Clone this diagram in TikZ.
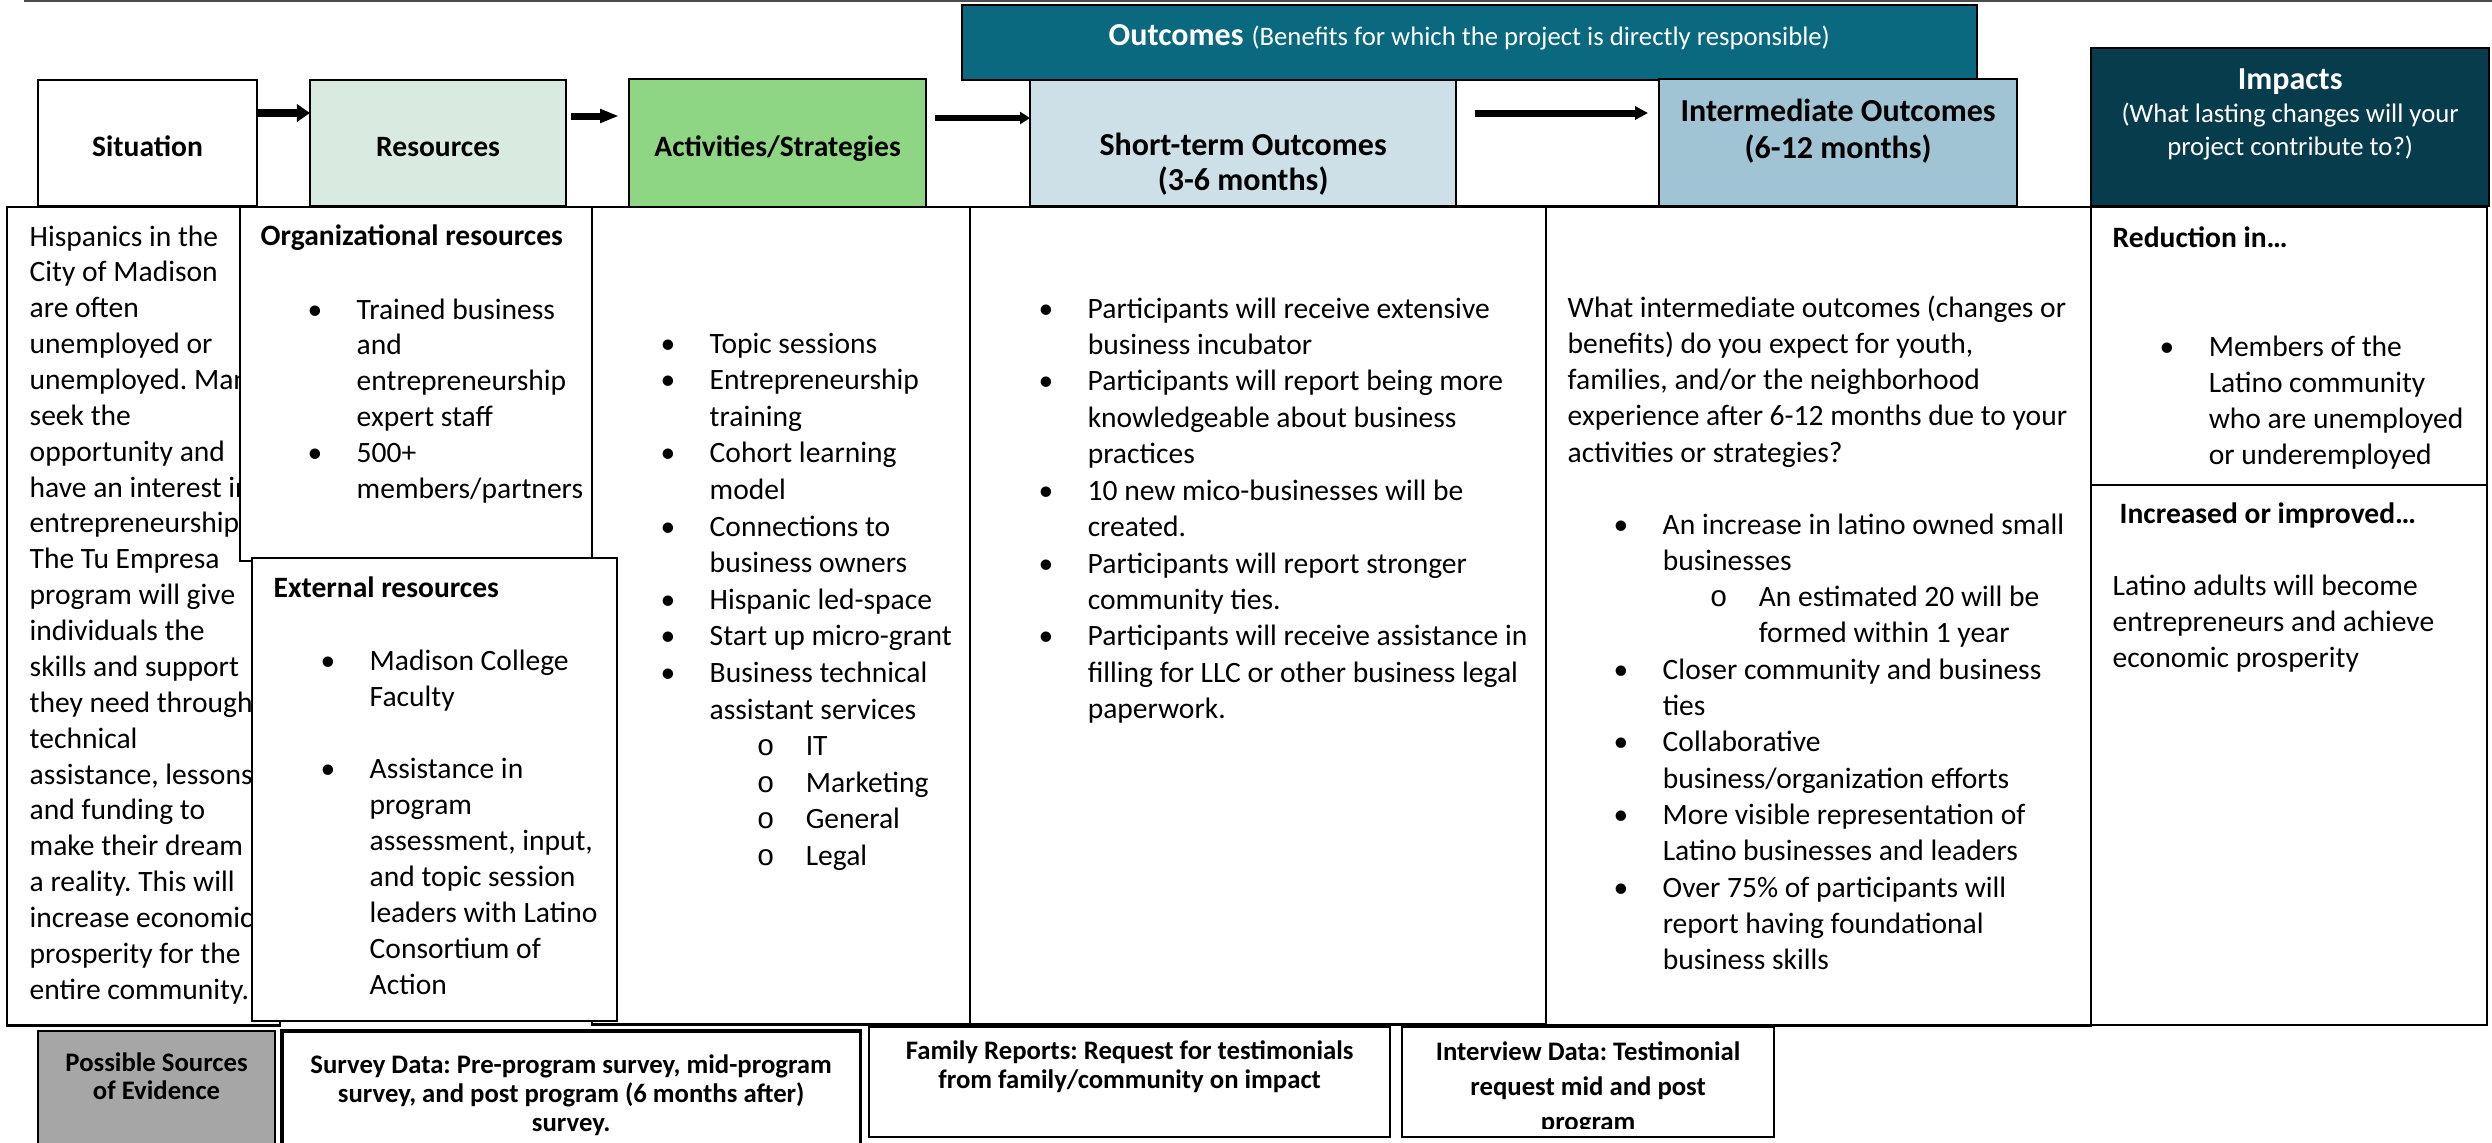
\documentclass[tikz,border=0pt]{standalone}
\usepackage{fontspec}
\setmainfont{Carlito}
\setmonofont{Liberation Mono}
\usetikzlibrary{arrows.meta, positioning, calc}
\definecolor{resGreen}{RGB}{217,235,224}
\definecolor{actGreen}{RGB}{142,214,131}
\definecolor{outTeal}{RGB}{11,105,127}
\definecolor{shortBlue}{RGB}{205,224,231}
\definecolor{midBlue}{RGB}{161,196,212}
\definecolor{impactNavy}{RGB}{7,60,77}
\definecolor{evidGray}{RGB}{166,166,166}
\definecolor{lineGray}{gray}{0.3}

\newcommand{\bodyfont}[1]{\fontsize{8.4}{#1}\selectfont}
\newcommand{\boxfont}{\fontsize{8.4}{10}\selectfont\bfseries}
\newcommand{\headfont}[1]{\fontsize{9.1}{#1}\selectfont\bfseries}
\newcommand{\notefont}{\fontsize{7.6}{9}\selectfont\mdseries}
\newcommand{\evfont}[1]{\fontsize{7.6}{#1}\selectfont\bfseries}
\newcommand{\subpt}[1]{\makebox[0.96cm][l]{\hspace{0.47cm}\texttt{o}}#1}
\frenchspacing

\begin{document}
\begin{tikzpicture}[x=0.01cm, y=-0.01cm,
    box/.style={draw=black, line width=0.6pt, anchor=north west, inner sep=0pt, outer sep=0pt},
    txt/.style={anchor=base west, inner sep=0pt},
    lbl/.style={anchor=base, inner sep=0pt, align=center},
    flow/.style={-{Triangle[length=0.13cm, width=0.16cm]}, line width=0.07cm}]
    \useasboundingbox (0,0) rectangle (2492,1142);
    \clip (0,0) rectangle (2492,1142);
    \draw[lineGray, line width=0.6pt] (24,1) -- (2492,1);

    % Header row
    \node[box, fill=white, minimum width=2.19cm, minimum height=1.26cm] (sit) at (38,80) {};
    \node[box, fill=resGreen, minimum width=2.56cm, minimum height=1.26cm] (res) at (310,80) {};
    \node[box, fill=actGreen, minimum width=2.97cm, minimum height=1.28cm] (act) at (629,79) {};
    \node[box, fill=outTeal, minimum width=10.14cm, minimum height=0.75cm] (outHead) at (962,5) {};
    \node[box, fill=shortBlue, minimum width=4.26cm, minimum height=1.26cm] (stt) at (1030,80) {};
    \node[box, fill=white, minimum width=2.03cm, minimum height=1.26cm] (gap) at (1456,80) {};
    \node[box, fill=midBlue, minimum width=3.58cm, minimum height=1.27cm] (int) at (1659,79) {};
    \node[box, fill=impactNavy, minimum width=3.98cm, minimum height=1.58cm] (imp) at (2091,48) {};

    \node[lbl, font=\boxfont] (sitLbl) at ($(sit.north)+(0,76)$) {Situation};
    \node[lbl, font=\boxfont] (resLbl) at ($(res.north)+(0,76)$) {Resources};
    \node[lbl, font=\boxfont] (actLbl) at ($(act.north)+(0,77)$) {Activities/Strategies};
    \node[lbl, white] (outLbl) at ($(outHead.north)+(0,40)$) {{\headfont{11pt}Outcomes} {\notefont(Benefits for which the project is directly responsible)}};
    \node[lbl, font={\headfont{10pt}}] (sttLbl) at ($(stt.north)+(0,75)$) {\begin{tabular}[t]{@{}c@{}}Short-term Outcomes\\ (3-6 months)\end{tabular}};
    \node[lbl, font={\headfont{10.8pt}}] (intLbl) at ($(int.north)+(0,42)$) {\begin{tabular}[t]{@{}c@{}}Intermediate Outcomes\\ (6-12 months)\end{tabular}};
    \node[lbl, white, font={\headfont{9.4pt}}] (impLbl) at ($(imp.north)+(0,41)$) {\begin{tabular}[t]{@{}c@{}}Impacts\\ \notefont(What lasting changes will your\\ \notefont project contribute to?)\end{tabular}};

    % Arrows between headers
    \draw[flow, line width=0.08cm, -{Triangle[length=0.13cm, width=0.17cm]}] ($(sit.north east)+(0,33)$) -- ($(res.north west)+(0,33)$);
    \draw[flow, -{Triangle[length=0.19cm, width=0.13cm]}] ($(res.north east)+(5,36)$) -- ($(act.north west)+(-10,37)$);
    \draw[flow, line width=0.06cm, -{Triangle[length=0.1cm, width=0.12cm]}] ($(act.north east)+(9,39)$) -- ($(stt.north west)+(0,38)$);
    \draw[flow, -{Triangle[length=0.13cm, width=0.13cm]}] ($(stt.north east)+(19,33)$) -- ($(int.north west)+(-11,34)$);

    % Panels
    \node[box, fill=white, minimum width=2.73cm, minimum height=8.18cm] (sitPanel) at (7,207) {};
    \node[box, fill=white, minimum width=3.78cm, minimum height=8.17cm] (actPanel) at (592,207) {};
    \node[box, fill=white, minimum width=5.76cm, minimum height=8.17cm] (sttPanel) at (970,207) {};
    \node[box, fill=white, minimum width=5.45cm, minimum height=8.18cm] (intPanel) at (1546,207) {};
    \node[box, fill=white, minimum width=3.96cm, minimum height=2.78cm] (redPanel) at (2091,207) {};
    \node[box, fill=white, minimum width=3.96cm, minimum height=5.40cm] (incPanel) at (2091,485) {};

    \node[txt, font={\bodyfont{10.2pt}}] (sitText) at (29,246) {\begin{tabular}[t]{@{}l@{}}
        Hispanics in the\\ City of Madison\\ are often\\ unemployed or\\ unemployed. Many\\ seek the\\
        opportunity and\\ have an interest in\\ entrepreneurship.\\ The Tu Empresa\\ program will give\\
        individuals the\\ skills and support\\ they need through\\ technical\\ assistance, lessons,\\
        and funding to\\ make their dream\\ a reality. This will\\ increase economic\\
        prosperity for the\\ entire community.\end{tabular}};

    % Resources
    \node[box, fill=white, minimum width=3.52cm, minimum height=3.54cm] (orgBox) at (240,207) {};
    \node[txt, font={\bodyfont{10.2pt}\bfseries}] (orgHead) at (260,245) {Organizational resources};
    \node[txt, font={\bodyfont{10.2pt}}] (orgList) at (307,319) {\begin{tabular}[t]{@{}p{0.49cm}@{}l@{}}
        \textbullet & Trained business\\ & and\\ & entrepreneurship\\ & expert staff\\
        \textbullet & 500+\\ & members/partners\end{tabular}};
    \node[box, fill=white, minimum width=3.65cm, minimum height=4.63cm] (extBox) at (252,558) {};
    \node[txt, font={\bodyfont{10.2pt}\bfseries}] (extHead) at (273,597) {External resources};
    \node[txt, font={\bodyfont{10.24pt}}] (extList) at (320,670) {\begin{tabular}[t]{@{}p{0.49cm}@{}l@{}}
        \textbullet & Madison College\\ & Faculty\\ & \\
        \textbullet & Assistance in\\ & program\\ & assessment, input,\\ & and topic session\\
        & leaders with Latino\\ & Consortium of\\ & Action\end{tabular}};

    % Activities
    \node[txt, font={\bodyfont{10.41pt}}] (actList) at (660,353) {\begin{tabular}[t]{@{}p{0.49cm}@{}l@{}}
        \textbullet & Topic sessions\\
        \textbullet & Entrepreneurship\\ & training\\
        \textbullet & Cohort learning\\ & model\\
        \textbullet & Connections to\\ & business owners\\
        \textbullet & Hispanic led-space\\
        \textbullet & Start up micro-grant\\
        \textbullet & Business technical\\ & assistant services\\
        & \subpt{IT}\\ & \subpt{Marketing}\\ & \subpt{General}\\ & \subpt{Legal}\end{tabular}};

    % Short-term outcomes
    \node[txt, font={\bodyfont{10.36pt}}] (sttList) at (1038,318) {\begin{tabular}[t]{@{}p{0.49cm}@{}l@{}}
        \textbullet & Participants will receive extensive\\ & business incubator\\
        \textbullet & Participants will report being more\\ & knowledgeable about business\\ & practices\\
        \textbullet & 10 new mico-businesses will be\\ & created.\\
        \textbullet & Participants will report stronger\\ & community ties.\\
        \textbullet & Participants will receive assistance in\\ & filling for LLC or other business legal\\
        & paperwork.\end{tabular}};

    % Intermediate outcomes
    \node[txt, font={\bodyfont{10.33pt}}] (intQ) at (1567,317) {\begin{tabular}[t]{@{}l@{}}
        What intermediate outcomes (changes or\\ benefits) do you expect for youth,\\
        families, and/or the neighborhood\\ experience after 6-12 months due to your\\
        activities or strategies?\end{tabular}};
    \node[txt, font={\bodyfont{10.33pt}}] (intList) at (1613,534) {\begin{tabular}[t]{@{}p{0.49cm}@{}l@{}}
        \textbullet & An increase in latino owned small\\ & businesses\\
        & \subpt{An estimated 20 will be}\\ & \hspace*{0.96cm}formed within 1 year\\
        \textbullet & Closer community and business\\ & ties\\
        \textbullet & Collaborative\\ & business/organization efforts\\
        \textbullet & More visible representation of\\ & Latino businesses and leaders\\
        \textbullet & Over 75\% of participants will\\ & report having foundational\\
        & business skills\end{tabular}};

    % Impacts
    \node[txt, font={\bodyfont{10.24pt}\bfseries}] (redHead) at (2112,247) {Reduction in…};
    \node[txt, font={\bodyfont{10.24pt}}] (redList) at (2159,356) {\begin{tabular}[t]{@{}p{0.49cm}@{}l@{}}
        \textbullet & Members of the\\ & Latino community\\ & who are unemployed\\ & or underemployed\end{tabular}};
    \node[txt, font={\bodyfont{10.24pt}\bfseries}] (incHead) at (2119,523) {Increased or improved…};
    \node[txt, font={\bodyfont{10.24pt}}] (incText) at (2112,595) {\begin{tabular}[t]{@{}l@{}}
        Latino adults will become\\ entrepreneurs and achieve\\ economic prosperity\end{tabular}};

    % Evidence row
    \node[box, fill=evidGray, minimum width=2.37cm, minimum height=1.3cm] (evid) at (38,1031) {};
    \node[lbl, font={\evfont{8pt}}] (evidLbl) at ($(evid.north)+(0,40)$) {\begin{tabular}[t]{@{}c@{}}Possible Sources\\ of Evidence\end{tabular}};
    \node[box, line width=0.9pt, fill=white, minimum width=5.78cm, minimum height=1.3cm] (survey) at (282,1031) {};
    \node[lbl, font={\evfont{8.25pt}}] (surveyLbl) at ($(survey.north)+(0,42)$) {\begin{tabular}[t]{@{}c@{}}Survey Data: Pre-program survey, mid-program\\ survey, and post program (6 months after)\\ survey.\end{tabular}};
    \node[box, fill=white, minimum width=5.21cm, minimum height=1.1cm] (family) at (869,1027) {};
    \node[lbl, font={\evfont{8.5pt}}] (familyLbl) at ($(family.north)+(0,32)$) {\begin{tabular}[t]{@{}c@{}}Family Reports: Request for testimonials\\ from family/community on impact\end{tabular}};
    \node[box, fill=white, minimum width=3.72cm, minimum height=1.1cm] (intv) at (1402,1027) {};
    \begin{scope}
        \clip (intv.north west) rectangle ($(intv.south east)+(0,-9)$);
        \node[lbl, font={\evfont{10pt}}] (intvLbl) at ($(intv.north)+(0,33)$) {\begin{tabular}[t]{@{}c@{}}Interview Data: Testimonial\\ request mid and post\\ program\end{tabular}};
    \end{scope}
\end{tikzpicture}
\end{document}
